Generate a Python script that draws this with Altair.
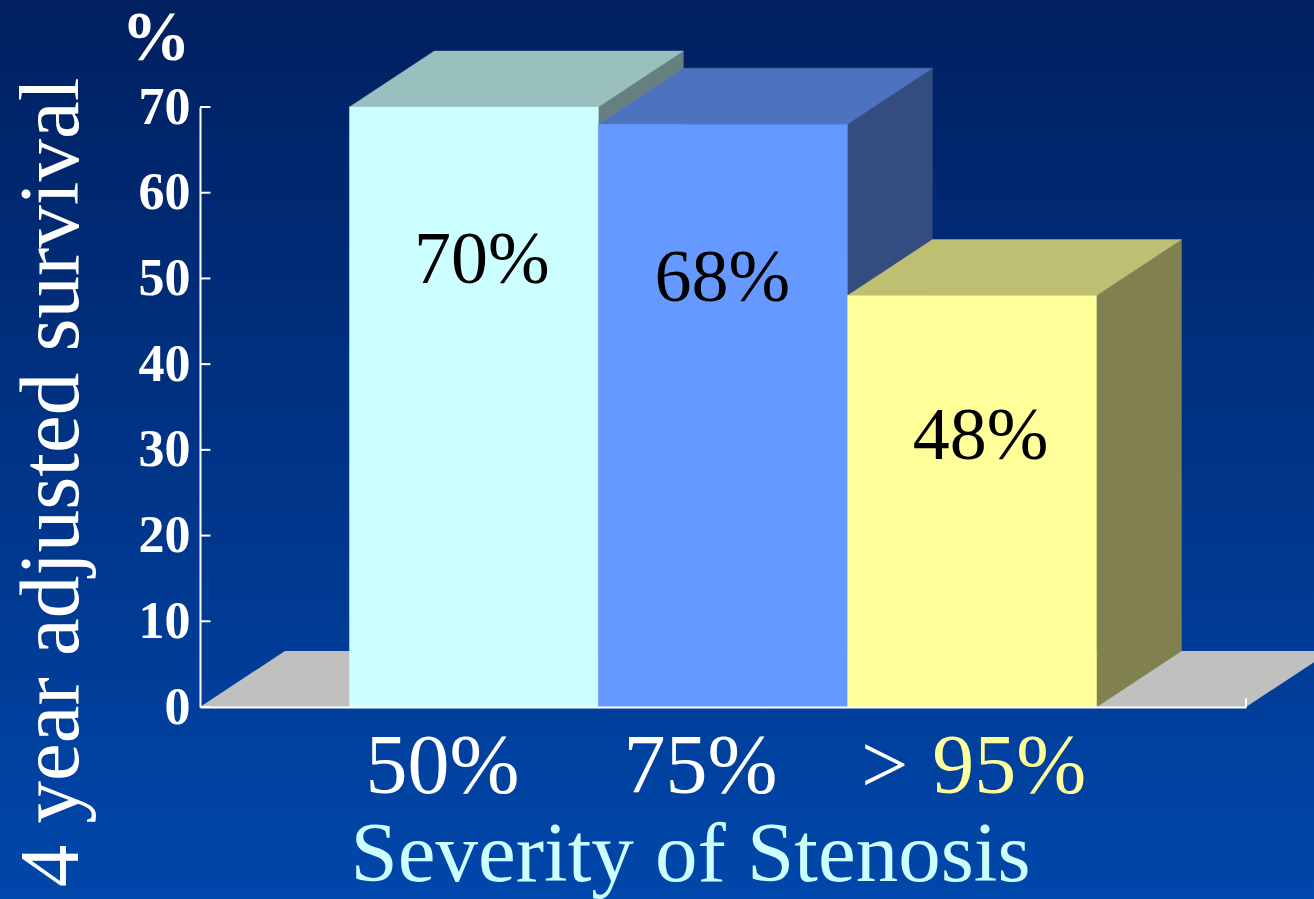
import altair as alt
import pandas as pd

# Chart values
categories = ["50%", "75%", "> 95%"]
survival = [70, 68, 48]
y_ticks = [0, 10, 20, 30, 40, 50, 60, 70]
front_colors = ["#CCFFFF", "#6699FF", "#FFFF99"]
top_colors = ["#99BFBF", "#4D73BF", "#BFBF73"]
side_colors = ["#668080", "#334D80", "#808050"]

# Projection of the pseudo-3D box, in axis units
DEPTH_X = 0.341
DEPTH_Y = 6.53
X_MIN, X_MAX = -0.6, 3.6
FLOOR = "#C0C0C0"
SERIF = "Liberation Serif"

x_scale = alt.Scale(domain=[X_MIN, X_MAX], nice=False, zero=False)
y_scale = alt.Scale(domain=[0, 70], nice=False, zero=False)

# The same axis definitions go on every layer so that they merge into one;
# zindex keeps them above the background rectangle and the boxes
x_axis = alt.Axis(
    title="Severity of Stenosis", labels=False, ticks=False, grid=False, zindex=1,
    domainColor="white", domainWidth=2, titleColor="#CCFFFF",
    titleFont=SERIF, titleFontSize=85, titleFontWeight="normal",
    titleX=490, titleY=173, titleBaseline="alphabetic", titleAlign="center",
)
y_axis = alt.Axis(
    values=y_ticks, title="4 year adjusted survival", ticks=False, grid=False, zindex=1,
    domainColor="white", domainWidth=2, labelColor="white", labelFont=SERIF,
    labelFontSize=52, labelFontWeight="bold", labelPadding=10,
    titleColor="white", titleFont=SERIF, titleFontSize=85,
    titleFontWeight="normal", titleAngle=-90, titleX=-123, titleY=375,
    titleBaseline="alphabetic", titleAlign="center",
)


def x_enc():
    return alt.X("x:Q", scale=x_scale, axis=x_axis)


def y_enc():
    return alt.Y("y:Q", scale=y_scale, axis=y_axis)


def face(rows, color, edge=0.4):
    # One flat polygon of the box, drawn as a band between y and y2
    return (
        alt.Chart(pd.DataFrame(rows, columns=["x", "y", "y2"]))
        .mark_area(color=color, orient="vertical", interpolate="linear",
                   stroke=color, strokeWidth=edge)
        .encode(x=x_enc(), y=y_enc(), y2="y2:Q")
    )


background = alt.Chart(pd.DataFrame({"a": [0]})).mark_rect(
    color=alt.Gradient(
        gradient="linear",
        x1=0, x2=0, y1=0, y2=1,
        stops=[alt.GradientStop(offset=0, color="#002060"),
               alt.GradientStop(offset=1, color="#0047AB")],
    )
).encode(x=alt.value(-200), x2=alt.value(1114), y=alt.value(-107), y2=alt.value(792))

# Floor slab behind the boxes
floor = face([
    [X_MIN, 0, 0],
    [X_MIN + DEPTH_X, 0, DEPTH_Y],
    [X_MAX, 0, DEPTH_Y],
    [X_MAX + DEPTH_X, DEPTH_Y, DEPTH_Y],
], FLOOR, edge=0)

# Inward ticks on the value axis and the closing tick on the baseline
tick_df = pd.DataFrame({"y": y_ticks, "x": X_MIN, "x2": X_MIN + 0.042})
ticks = alt.Chart(tick_df).mark_rule(color="white", strokeWidth=2).encode(
    x=x_enc(), x2="x2:Q", y=y_enc()
)
end_tick = alt.Chart(pd.DataFrame({"x": [X_MAX], "y": [0], "y2": [1]})).mark_rule(
    color="white", strokeWidth=2
).encode(x=x_enc(), y=y_enc(), y2="y2:Q")

# Boxes run left to right so each one overlaps the side of its neighbour
boxes = []
for i, value in enumerate(survival):
    left, right = float(i), float(i + 1)
    boxes.append(face([[right, 0, value],
                       [right + DEPTH_X, DEPTH_Y, value + DEPTH_Y]], side_colors[i]))
    boxes.append(face([[left, value, value],
                       [left + DEPTH_X, value, value + DEPTH_Y],
                       [right, value, value + DEPTH_Y],
                       [right + DEPTH_X, value + DEPTH_Y, value + DEPTH_Y]], top_colors[i]))
    boxes.append(face([[left, 0, value], [right, 0, value]], front_colors[i]))

# Value labels inside the boxes
label_df = pd.DataFrame({
    "x": [0.532, 1.497, 2.534],
    "y": survival,
    "text": [f"{v}%" for v in survival],
    "drop": [176, 177, 163],
})
value_labels = [
    alt.Chart(label_df.iloc[[i]]).mark_text(
        font=SERIF, fontSize=74, color="black", baseline="alphabetic",
        align="center", dy=int(label_df["drop"][i]),
    ).encode(x=x_enc(), y=y_enc(), text="text:N")
    for i in range(3)
]

# Category labels under the baseline
gt_text, pct_text = categories[2].split(" ")
cat_df = pd.DataFrame({
    "x": [0.374, 1.41, 2.149],
    "y": [0, 0, 0],
    "text": [categories[0], categories[1], gt_text],
})
cat_labels = alt.Chart(cat_df).mark_text(
    font=SERIF, fontSize=84, color="white", baseline="alphabetic", align="center", dy=86
).encode(x=x_enc(), y=y_enc(), text="text:N")

pct_label = alt.Chart(pd.DataFrame({"x": [2.649], "y": [0], "text": [pct_text]})).mark_text(
    font=SERIF, fontSize=84, color="#FFFF99", baseline="alphabetic", align="center", dy=86
).encode(x=x_enc(), y=y_enc(), text="text:N")

unit_label = alt.Chart(pd.DataFrame({"x": [X_MIN], "y": [70], "text": ["%"]})).mark_text(
    font=SERIF, fontSize=69, fontWeight="bold", color="white", baseline="alphabetic",
    align="center", dx=-44, dy=-47
).encode(x=x_enc(), y=y_enc(), text="text:N")

chart = (
    alt.layer(background, floor, *boxes, ticks, end_tick, *value_labels,
              cat_labels, pct_label, unit_label)
    .properties(
        width=1046, height=600,
        padding={"left": 200, "top": 107, "right": 68, "bottom": 192},
        autosize=alt.AutoSizeParams(type="none"),
    )
    .configure_view(stroke=None)
    .configure(background="#002060")
)

chart.save("out.html", embed_options={"renderer": "svg", "actions": False})
